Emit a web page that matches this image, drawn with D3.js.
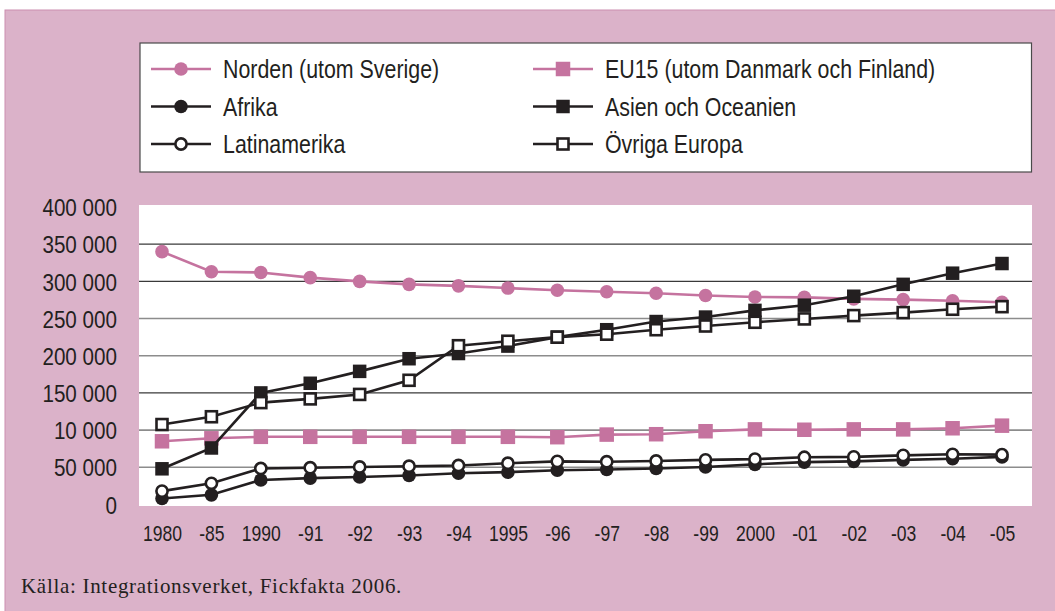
<!DOCTYPE html>
<html>
<head>
<meta charset="utf-8">
<script src="https://cdn.jsdelivr.net/npm/d3@7"></script>
<style>
  html, body { margin: 0; padding: 0; background: #ffffff; }
  svg { display: block; }
</style>
</head>
<body>
<svg id="chart" width="1055" height="611"></svg>
<script>
// Categories (years) and tick labels
const years = ["1980","-85","1990","-91","-92","-93","-94","1995","-96","-97","-98","-99","2000","-01","-02","-03","-04","-05"];
const yTickValues = [0, 50000, 100000, 150000, 200000, 250000, 300000, 350000, 400000];
const yTickLabels = ["0", "50 000", "10 000", "150 000", "200 000", "250 000", "300 000", "350 000", "400 000"];

// Series values
const norden   = [340000, 313000, 312000, 305000, 300000, 296000, 294000, 291000, 288000, 286000, 284000, 281000, 279000, 278500, 276500, 275500, 274000, 272000];
const eu15     = [85000, 89000, 91000, 91000, 91000, 91000, 91000, 91000, 90500, 94000, 94500, 98500, 101000, 100500, 101000, 101000, 102500, 106000];
const afrika   = [8000, 13000, 33000, 35500, 37000, 39000, 42000, 43500, 46000, 47000, 48500, 50500, 54000, 57000, 58000, 60000, 61500, 64000];
const asien    = [48000, 76000, 150000, 163000, 179000, 196000, 203000, 213000, 225000, 235000, 246000, 252000, 261000, 268000, 280000, 296000, 311000, 324000];
const latin    = [18000, 28500, 48500, 49500, 50500, 51500, 52500, 55500, 58000, 57500, 58500, 60000, 61000, 63500, 64000, 66000, 67500, 67000];
const ovriga   = [107500, 118000, 137000, 142000, 148000, 167000, 213500, 219500, 225000, 229000, 235000, 240000, 245000, 249500, 254000, 258000, 262500, 266000];

const pink = "#c5739f";
const ink = "#231f20";

const series = [
  { name: "Norden (utom Sverige)",             values: norden, color: pink, shape: "circle", fill: pink },
  { name: "EU15 (utom Danmark och Finland)",   values: eu15,   color: pink, shape: "square", fill: pink },
  { name: "Afrika",                            values: afrika, color: ink,  shape: "circle", fill: ink },
  { name: "Asien och Oceanien",                values: asien,  color: ink,  shape: "square", fill: ink },
  { name: "Latinamerika",                      values: latin,  color: ink,  shape: "circle", fill: "#ffffff" },
  { name: "Övriga Europa",                     values: ovriga, color: ink,  shape: "square", fill: "#ffffff" }
];

const svg = d3.select("#chart");
// Condensed look: regular sans squeezed horizontally
const sans = "'Liberation Sans', Arial, sans-serif";

// Pink panel
svg.append("rect").attr("x", 5).attr("y", 10).attr("width", 1060).attr("height", 610)
  .attr("fill", "#dbb2c9").attr("stroke", "#cb8db0").attr("stroke-width", 1);

// Plot area
const plot = { left: 139, right: 1032, top: 205, bottom: 506 };
svg.append("rect").attr("x", plot.left).attr("y", plot.top)
  .attr("width", plot.right - plot.left).attr("height", plot.bottom - plot.top).attr("fill", "#ffffff");

const x = d3.scalePoint().domain(years).range([162, 1002]);
const y = d3.scaleLinear().domain([0, 400000]).range([504.5, 207]);

// Gridlines
const gridTicks = [50000, 100000, 150000, 200000, 250000, 300000, 350000];
const darkGrid = new Set([150000, 300000, 350000]);
svg.append("g").selectAll("line").data(gridTicks).join("line")
  .attr("x1", plot.left).attr("x2", plot.right)
  .attr("y1", d => y(d)).attr("y2", d => y(d))
  .attr("stroke", d => darkGrid.has(d) ? "#3a3a3a" : "#8c8c8c")
  .attr("stroke-width", d => darkGrid.has(d) ? 1.2 : 1.6);

// Y axis labels
const yAxis = d3.axisLeft(y).tickValues(yTickValues)
  .tickFormat((d, i) => yTickLabels[i]).tickSize(0).tickPadding(0);
const gy = svg.append("g").attr("transform", "translate(117,0)").call(yAxis);
gy.select(".domain").remove();
gy.selectAll("text").attr("font-family", sans).attr("font-size", 24).attr("fill", ink)
  .attr("dy", "0.36em").attr("transform", "scale(0.86,1)");

// X axis labels
const xAxis = d3.axisBottom(x).tickSize(0).tickPadding(0);
const gx = svg.append("g").attr("transform", "translate(0,533)").call(xAxis);
gx.select(".domain").remove();
gx.selectAll("text").attr("font-family", sans).attr("font-size", 22.5).attr("fill", ink)
  .attr("dy", "0.36em").attr("transform", "scale(0.78,1)");

// Lines and markers
const line = d3.line().x((d, i) => x(years[i])).y(d => y(d));

function drawMarker(g, shape, cx, cy, fill, color) {
  const open = fill === "#ffffff";
  if (shape === "circle") {
    g.append("circle").attr("cx", cx).attr("cy", cy)
      .attr("r", open ? 5.6 : 6.8)
      .attr("fill", fill)
      .attr("stroke", open ? color : "none")
      .attr("stroke-width", open ? 2.6 : 0);
  } else {
    const s = open ? 11 : (color === pink ? 14.5 : 13.5);
    g.append("rect").attr("x", cx - s / 2).attr("y", cy - s / 2)
      .attr("width", s).attr("height", s)
      .attr("fill", fill)
      .attr("stroke", open ? color : "none")
      .attr("stroke-width", open ? 2.6 : 0);
  }
}

series.forEach(s => {
  const g = svg.append("g");
  g.append("path").datum(s.values).attr("d", line)
    .attr("fill", "none").attr("stroke", s.color).attr("stroke-width", 2.6);
  s.values.forEach((v, i) => drawMarker(g, s.shape, x(years[i]), y(v), s.fill, s.color));
});

// Legend
const legend = svg.append("g");
legend.append("rect").attr("x", 140).attr("y", 43).attr("width", 891.5).attr("height", 129)
  .attr("fill", "#ffffff").attr("stroke", "#4a4a4a").attr("stroke-width", 1.2);
const legCols = [151, 533];
const legRows = [69, 106.5, 144];
series.forEach((s, i) => {
  const col = i % 2, row = Math.floor(i / 2);
  const lx = legCols[col], ly = legRows[row];
  const g = legend.append("g");
  g.append("line").attr("x1", lx).attr("x2", lx + 60).attr("y1", ly).attr("y2", ly)
    .attr("stroke", s.color).attr("stroke-width", 2.6);
  drawMarker(g, s.shape, lx + 30, ly, s.fill, s.color);
  g.append("g").attr("transform", `translate(${lx + 72},${ly}) scale(0.855,1)`)
    .append("text").attr("dy", "0.36em")
    .attr("font-family", sans).attr("font-size", 25).attr("fill", ink).text(s.name);
});

// Source note
svg.append("text").attr("x", 21).attr("y", 593)
  .attr("font-family", "'Liberation Serif', 'DejaVu Serif', serif").attr("font-size", 21)
  .attr("letter-spacing", 0.7)
  .attr("fill", ink).text("Källa: Integrationsverket, Fickfakta 2006.");
</script>
</body>
</html>
